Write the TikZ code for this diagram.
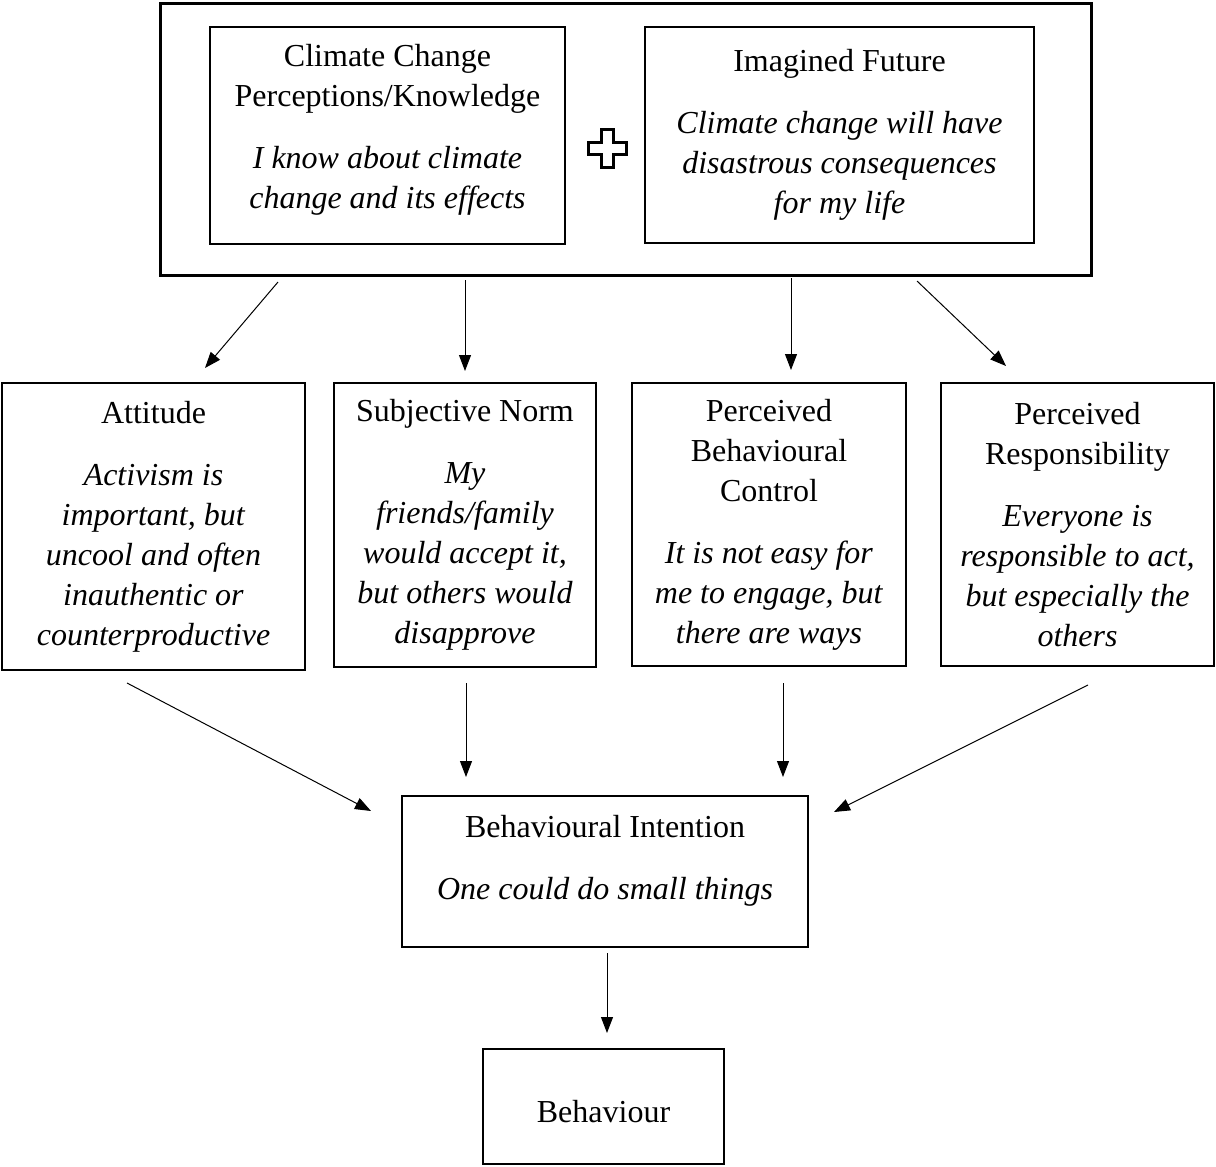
\documentclass[tikz,border=0pt]{standalone}
\usepackage{fontspec}
\setmainfont{Liberation Serif}
\usetikzlibrary{arrows.meta,positioning}

\begin{document}
\begin{tikzpicture}[x=0.5pt,y=-0.5pt,font=\fontsize{16}{20}\selectfont]
    \tikzstyle{box}=[draw,line width=1pt,align=center,inner sep=0pt]
    \tikzstyle{link}=[-{Triangle[length=8pt,width=6pt]},line width=0.5pt]
    \useasboundingbox (0,0) rectangle (1216,1167);

    \node [draw,line width=1.5pt,minimum width=465.5pt,minimum height=136pt] (frame) at (625.5,139) {};

    \node [box,minimum width=177.5pt,minimum height=108.5pt] (perceptions) at (387.5,135.5) {
      Climate Change\\Perceptions/Knowledge\\[11pt]
      \textit{I know about climate}\\\textit{change and its effects}\\[-11pt]\mbox{}
    };
    \node [box,minimum width=194.5pt,minimum height=108pt] (future) at (839.5,135) {
      Imagined Future\\[11pt]
      \textit{Climate change will have}\\\textit{disastrous consequences}\\\textit{for my life}
    };
    % plus sign between the two boxes
    \draw [line width=1.5pt] (601,129) -- (613,129) -- (613,142) -- (626,142) -- (626,154)
      -- (613,154) -- (613,167) -- (601,167) -- (601,154) -- (588,154) -- (588,142)
      -- (601,142) -- cycle;

    \node [box,minimum width=151.5pt,minimum height=143.5pt] (attitude) at (153.5,526.5) {
      Attitude\\[11pt]
      \textit{Activism is}\\\textit{important, but}\\\textit{uncool and often}\\
      \textit{inauthentic or}\\\textit{counterproductive}
    };
    \node [box,minimum width=131pt,minimum height=142pt] (norm) at (465,525) {
      Subjective Norm\\[11pt]
      \textit{My}\\\textit{friends/family}\\\textit{would accept it,}\\
      \textit{but others would}\\\textit{disapprove}
    };
    \node [box,minimum width=137pt,minimum height=141.5pt] (control) at (769,524.5) {
      Perceived\\Behavioural\\Control\\[11pt]
      \textit{It is not easy for}\\\textit{me to engage, but}\\\textit{there are ways}
    };
    \node [box,minimum width=136.5pt,minimum height=141.5pt] (responsibility) at (1077.5,524.5) {
      Perceived\\Responsibility\\[11pt]
      \textit{Everyone is}\\\textit{responsible to act,}\\\textit{but especially the}\\
      \textit{others}
    };

    \node [box,minimum width=203pt,minimum height=75.5pt] (intention) at (605,871.5) {
      Behavioural Intention\\[11pt]
      \textit{One could do small things}\\[-6pt]\mbox{}
    };
    \node [box,minimum width=120.5pt,minimum height=57.5pt] (behaviour) at (603.5,1106.5) {\raisebox{-2.5pt}[\height][\depth]{Behaviour}};

    % arrow ends
    \coordinate (f1) at (278,282);  \coordinate (t1) at (205,368);
    \coordinate (f2) at (465,280);  \coordinate (t2) at (465,371);
    \coordinate (f3) at (791,278);  \coordinate (t3) at (791,370);
    \coordinate (f4) at (917,281);  \coordinate (t4) at (1006,366);
    \coordinate (g1) at (127,683);  \coordinate (h1) at (371,811);
    \coordinate (g2) at (466,683);  \coordinate (h2) at (466,777);
    \coordinate (g3) at (783,683);  \coordinate (h3) at (783,777);
    \coordinate (g4) at (1088,685); \coordinate (h4) at (834,812);
    \coordinate (i1) at (607,953);  \coordinate (i2) at (607,1033);

    \draw [link] (f1) -- (t1);
    \draw [link] (f2) -- (t2);
    \draw [link] (f3) -- (t3);
    \draw [link] (f4) -- (t4);
    \draw [link] (g1) -- (h1);
    \draw [link] (g2) -- (h2);
    \draw [link] (g3) -- (h3);
    \draw [link] (g4) -- (h4);
    \draw [link] (i1) -- (i2);
  \end{tikzpicture}
\end{document}
